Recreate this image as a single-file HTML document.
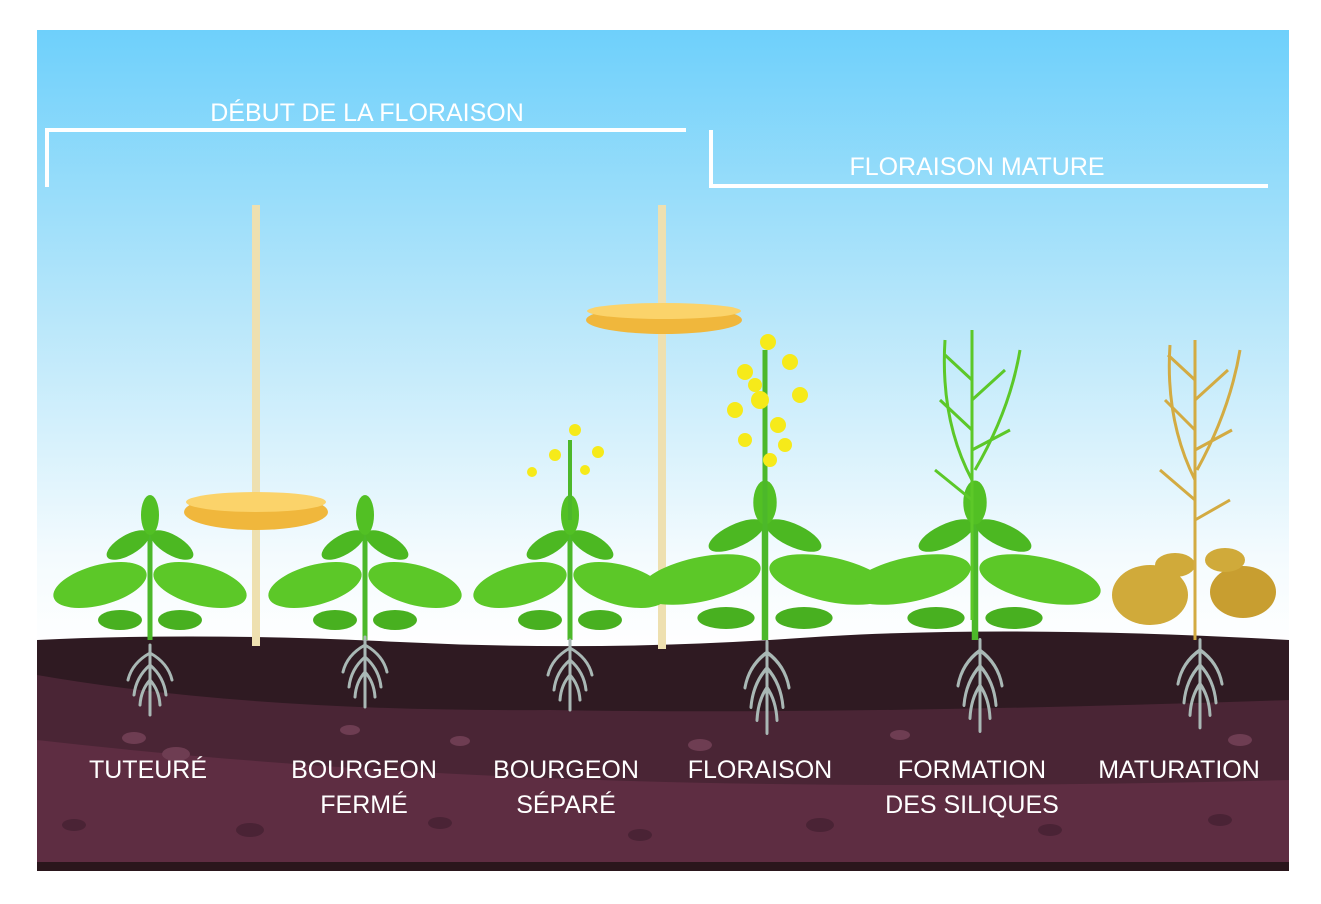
<!DOCTYPE html>
<html><head><meta charset="utf-8"><style>
html,body{margin:0;padding:0;background:#fff;width:1321px;height:904px;overflow:hidden}
svg{display:block}
text{font-family:"Liberation Sans",sans-serif;fill:#fff;font-size:25px;text-anchor:middle}
</style></head><body>
<svg width="1321" height="904" viewBox="0 0 1321 904" xmlns="http://www.w3.org/2000/svg">
<defs>
<linearGradient id="sky" x1="0" y1="0" x2="0" y2="1">
<stop offset="0" stop-color="#6ed0fb"/><stop offset="0.45" stop-color="#b6e6fa"/><stop offset="0.85" stop-color="#f4fbfe"/><stop offset="1" stop-color="#ffffff"/>
</linearGradient>
<g id="roots" stroke="#a9b8b5" stroke-width="3" fill="none" stroke-linecap="round">
<path d="M0 0 V70"/><path d="M0 8 Q-18 18 -22 35"/><path d="M0 8 Q18 18 22 35"/><path d="M0 20 Q-14 32 -16 50"/><path d="M0 20 Q14 32 16 50"/><path d="M0 35 Q-9 45 -10 60"/><path d="M0 35 Q9 45 10 60"/>
</g>
<g id="bush">
<path d="M0 0 V-130" stroke="#4cb82a" stroke-width="5"/>
<ellipse cx="-50" cy="-55" rx="48" ry="20" fill="#5cc828" transform="rotate(-15 -50 -55)"/>
<ellipse cx="50" cy="-55" rx="48" ry="20" fill="#5cc828" transform="rotate(15 50 -55)"/>
<ellipse cx="-30" cy="-20" rx="22" ry="10" fill="#48b020"/>
<ellipse cx="30" cy="-20" rx="22" ry="10" fill="#48b020"/>
<ellipse cx="-22" cy="-95" rx="24" ry="10" fill="#4cb822" transform="rotate(-30 -22 -95)"/>
<ellipse cx="22" cy="-95" rx="24" ry="10" fill="#4cb822" transform="rotate(30 22 -95)"/>
<ellipse cx="0" cy="-125" rx="9" ry="20" fill="#52c024"/>
</g>
</defs>
<rect x="37" y="30" width="1252" height="620" fill="url(#sky)"/>
<path d="M37 640 Q200 632 400 642 T800 638 T1289 640 V871 H37Z" fill="#2f1a22"/>
<path d="M37 675 Q250 712 550 710 Q850 715 1289 700 V871 H37Z" fill="#4a2535"/>
<path d="M37 740 Q300 770 600 780 Q900 790 1289 780 V871 H37Z" fill="#5e2d42"/>
<rect x="37" y="862" width="1252" height="9" fill="#2a161c"/>
<g fill="#6e3d52"><ellipse cx="134" cy="738" rx="12" ry="6"/><ellipse cx="176" cy="754" rx="14" ry="7"/><ellipse cx="350" cy="730" rx="10" ry="5"/><ellipse cx="460" cy="741" rx="10" ry="5"/><ellipse cx="700" cy="745" rx="12" ry="6"/><ellipse cx="900" cy="735" rx="10" ry="5"/><ellipse cx="1240" cy="740" rx="12" ry="6"/></g>
<g fill="#4a2335"><ellipse cx="74" cy="825" rx="12" ry="6"/><ellipse cx="250" cy="830" rx="14" ry="7"/><ellipse cx="440" cy="823" rx="12" ry="6"/><ellipse cx="640" cy="835" rx="12" ry="6"/><ellipse cx="820" cy="825" rx="14" ry="7"/><ellipse cx="1050" cy="830" rx="12" ry="6"/><ellipse cx="1220" cy="820" rx="12" ry="6"/></g>
<g stroke="#fff" stroke-width="4" fill="none"><path d="M47 187 V130 H686"/><path d="M711 130 V186 H1268"/></g>
<text x="367" y="121">DÉBUT DE LA FLORAISON</text>
<text x="977" y="175">FLORAISON MATURE</text>
<rect x="252" y="205" width="8" height="441" fill="#eee0b0"/>
<rect x="658" y="205" width="8" height="444" fill="#eee0b0"/>
<use href="#bush" x="150" y="640"/>
<use href="#bush" x="365" y="640"/>
<use href="#bush" x="570" y="640"/>
<path d="M570 520 V440" stroke="#4cb82a" stroke-width="4"/>
<ellipse cx="256" cy="512" rx="72" ry="18" fill="#f0b73c"/><ellipse cx="256" cy="502" rx="70" ry="10" fill="#fbd36a"/>
<ellipse cx="664" cy="320" rx="78" ry="14" fill="#f0b73c"/><ellipse cx="664" cy="311" rx="77" ry="8" fill="#fbd36a"/>
<g fill="#f6ea1a"><circle cx="555" cy="455" r="6"/><circle cx="575" cy="430" r="6"/><circle cx="598" cy="452" r="6"/><circle cx="532" cy="472" r="5"/><circle cx="585" cy="470" r="5"/></g>
<use href="#bush" x="765" y="640" transform="translate(765 640) scale(1.3 1.1) translate(-765 -640)"/>
<path d="M765 620 V350" stroke="#4cb82a" stroke-width="5"/>
<g fill="#f6ea1a"><circle cx="768" cy="342" r="8"/><circle cx="745" cy="372" r="8"/><circle cx="790" cy="362" r="8"/><circle cx="760" cy="400" r="9"/><circle cx="735" cy="410" r="8"/><circle cx="800" cy="395" r="8"/><circle cx="778" cy="425" r="8"/><circle cx="745" cy="440" r="7"/><circle cx="770" cy="460" r="7"/><circle cx="755" cy="385" r="7"/><circle cx="785" cy="445" r="7"/></g>
<use href="#bush" x="975" y="640" transform="translate(975 640) scale(1.3 1.1) translate(-975 -640)"/>
<g stroke="#5cc828" stroke-width="3" fill="none"><path d="M972 620 V330"/><path d="M972 480 Q940 420 945 340"/><path d="M975 470 Q1010 410 1020 350"/><path d="M972 430 L940 400 M972 400 L1005 370 M972 380 L945 355 M972 450 L1010 430 M972 500 L935 470"/></g>
<g fill="#d0aa3a"><ellipse cx="1150" cy="595" rx="38" ry="30"/><ellipse cx="1243" cy="592" rx="33" ry="26" fill="#c89e30"/><ellipse cx="1175" cy="565" rx="20" ry="12"/><ellipse cx="1225" cy="560" rx="20" ry="12"/></g>
<g stroke="#d3ab42" stroke-width="3" fill="none"><path d="M1195 640 V340"/><path d="M1195 480 Q1165 420 1170 345"/><path d="M1197 470 Q1230 410 1240 350"/><path d="M1195 430 L1165 400 M1195 400 L1228 370 M1195 380 L1168 355 M1195 450 L1232 430 M1195 500 L1160 470 M1195 520 L1230 500"/></g>
<use href="#roots" x="150" y="645"/><use href="#roots" x="365" y="637"/><use href="#roots" x="570" y="640"/><use href="#roots" x="767" y="642" transform="translate(767 642) scale(1 1.3) translate(-767 -642)"/><use href="#roots" x="980" y="640" transform="translate(980 640) scale(1 1.3) translate(-980 -640)"/><use href="#roots" x="1200" y="640" transform="translate(1200 640) scale(1 1.25) translate(-1200 -640)"/>
<text x="148" y="778">TUTEURÉ</text>
<text x="364" y="778">BOURGEON</text><text x="364" y="813">FERMÉ</text>
<text x="566" y="778">BOURGEON</text><text x="566" y="813">SÉPARÉ</text>
<text x="760" y="778">FLORAISON</text>
<text x="972" y="778">FORMATION</text><text x="972" y="813">DES SILIQUES</text>
<text x="1179" y="778">MATURATION</text>
</svg>
</body></html>
